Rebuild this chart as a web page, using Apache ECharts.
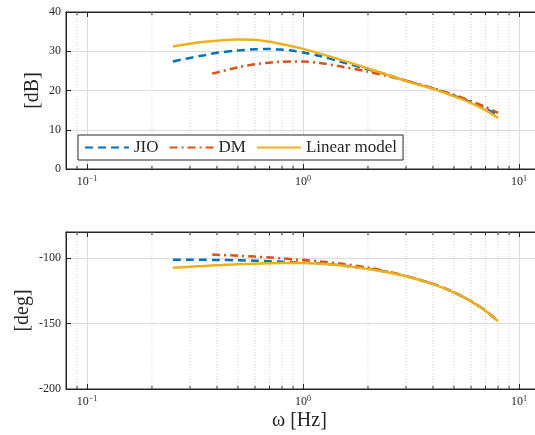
<!DOCTYPE html>
<html><head><meta charset="utf-8">
<script src="https://cdn.jsdelivr.net/npm/echarts@6/dist/echarts.min.js"></script>
<style>html,body{margin:0;padding:0;background:#fff}#c{width:535px;height:435px}</style>
</head><body><div id="c"></div>
<script>
// ---- data ----
const freqJIO = [0.25,0.3,0.35,0.4,0.5,0.6,0.7,0.8,0.9,1,1.2,1.5,2,2.5,3,4,5,6,7,8];
const freqDM  = [0.38,0.4,0.5,0.6,0.7,0.8,0.9,1,1.2,1.5,2,2.5,3,4,5,6,7,8];
const freqLin = [0.25,0.3,0.35,0.4,0.5,0.6,0.7,0.8,0.9,1,1.2,1.5,2,2.5,3,4,5,6,7,8];
const magJIO = [27.4,28.3,29.0,29.6,30.2,30.5,30.6,30.4,30.1,29.7,28.8,27.3,25.4,23.9,22.5,20.5,18.7,17.0,15.4,13.8];
const magDM  = [24.3,24.6,25.9,26.7,27.1,27.3,27.4,27.4,27.0,26.1,24.8,23.6,22.5,20.6,18.9,17.3,15.8,14.3];
const magLin = [31.2,31.9,32.4,32.7,33.0,32.9,32.4,31.8,31.2,30.6,29.4,27.8,25.6,23.9,22.4,20.4,18.5,16.8,15.0,13.0];
const phJIO = [-101.3,-101.3,-101.3,-101.4,-101.6,-101.9,-102.3,-102.7,-103.1,-103.4,-104.1,-105.5,-108.0,-110.8,-113.7,-119.7,-126.1,-132.9,-140.1,-148.2];
const phDM  = [-97.2,-97.4,-98.1,-98.8,-99.5,-100.2,-100.8,-101.3,-102.5,-104.2,-107.2,-110.5,-113.6,-119.7,-126.1,-132.9,-140.1,-148.2];
const phLin = [-107.4,-106.6,-105.9,-105.4,-104.7,-104.2,-103.9,-103.7,-103.6,-103.6,-104.2,-105.6,-108.2,-110.9,-113.8,-119.8,-126.2,-133.0,-140.2,-148.3];
const seriesNames = ['JIO','DM','Linear model'];
const xRange = [0.08, 20];
const magRange = [0, 40, 10];
const phRange = [-200, -80, 50];
const minorX = [0.09,0.2,0.3,0.4,0.5,0.6,0.7,0.8,0.9,2,3,4,5,6,7,8,9];

const FONT = 'Liberation Serif';
const AX = '#262626';
const colors = ['#0072BD','#D95319','#EDB120'];
const dashes = [[8,5],[8,4,2,4],'solid'];

const zip = (xs, ys) => xs.map((x,i)=>[x, ys[i]]);

function xAxisCfg(gi, top){
  return {
    type:'log', logBase:10, gridIndex:gi, min:xRange[0], max:xRange[1],
    position: top ? 'top' : 'bottom',
    axisLine:{show:true, onZero:false, lineStyle:{color:AX, width:1}},
    axisTick:{show:true, inside:true, length:5, lineStyle:{color:AX}},
    splitLine:{show:!top, lineStyle:{color:'#dcdcdc', width:1}},
    axisLabel:{show:!top, showMinLabel:false, showMaxLabel:false, margin:6,
      formatter:v=>{const e=Math.log10(v); if(Math.abs(e-Math.round(e))>1e-6) return ''; const r=Math.round(e); return '{b|10}{e|'+(r<0?'\u2212'+(-r):r)+'}';},
      rich:{b:{fontFamily:FONT,fontSize:12,color:AX,lineHeight:14}, e:{fontFamily:FONT,fontSize:8,color:AX,verticalAlign:'top',lineHeight:9}}}
  };
}
function yAxisCfg(gi, rng, name, gap){
  return {
    type:'value', gridIndex:gi, min:rng[0], max:rng[1], interval:rng[2],
    name:name, nameLocation:'middle', nameGap:gap, nameMoveOverlap:false,
    nameTextStyle:{fontFamily:FONT, fontSize:20, color:AX},
    axisLine:{show:true, lineStyle:{color:AX}},
    axisTick:{show:true, inside:true, length:5, lineStyle:{color:AX}},
    splitLine:{show:true, lineStyle:{color:'#dcdcdc'}},
    axisLabel:{fontFamily:FONT, fontSize:12, color:AX, margin:5, showMaxLabel: rng[1]%rng[2]===0,
      formatter:v=>String(v)}
  };
}
function minorSeries(gi, rng){
  return {
    type:'custom', xAxisIndex:gi*2, yAxisIndex:gi, silent:true, z:1,
    data: minorX.map(v=>[v, rng[0]]), encode:{x:0,y:1},
    renderItem:(params, api)=>{
      const v = api.value(0);
      const p0 = api.coord([v, rng[0]]), p1 = api.coord([v, rng[1]]);
      return {type:'group', children:[
        {type:'line', shape:{x1:p0[0],y1:p0[1],x2:p1[0],y2:p1[1]}, style:{stroke:'#cfcfcf', lineWidth:1, lineDash:[1,2]}},
        {type:'line', shape:{x1:p0[0],y1:p0[1],x2:p0[0],y2:p0[1]-3}, style:{stroke:AX, lineWidth:1}},
        {type:'line', shape:{x1:p1[0],y1:p1[1],x2:p1[0],y2:p1[1]+3}, style:{stroke:AX, lineWidth:1}}
      ]};
    }
  };
}
function lineSeries(i, gi, data){
  return {
    name:seriesNames[i], type:'line', xAxisIndex:gi*2, yAxisIndex:gi, data:data,
    smooth:0.3, symbol:'none', showSymbol:false, z:3+i,
    lineStyle:{color:colors[i], width:2.5, type:dashes[i]}, itemStyle:{color:colors[i]}
  };
}

const chart = echarts.init(document.getElementById('c'), null, {renderer:'canvas'});
chart.setOption({
  animation:false,
  backgroundColor:'#fff',
  grid:[
    {left:66, top:12, height:157, width:518, outerBoundsMode:'none', containLabel:false, show:true, borderColor:AX, borderWidth:1, backgroundColor:'transparent'},
    {left:66, top:232, height:157, width:518, outerBoundsMode:'none', containLabel:false, show:true, borderColor:AX, borderWidth:1, backgroundColor:'transparent'}
  ],
  xAxis:[xAxisCfg(0,false), xAxisCfg(0,true), xAxisCfg(1,false), xAxisCfg(1,true)],
  yAxis:[yAxisCfg(0, magRange, '[dB]', 23), yAxisCfg(1, phRange, '[deg]', 33)],
  legend:{
    data:seriesNames, left:78, top:135, orient:'horizontal',
    backgroundColor:'#fff', borderColor:AX, borderWidth:1, borderRadius:0,
    padding:[4,6,4,6], itemWidth:44, itemHeight:14, itemGap:10,
    itemStyle:{opacity:0},
    textStyle:{fontFamily:FONT, fontSize:17, color:AX}
  },
  graphic:[{type:'text', style:{text:'\u03C9 [Hz]', fontFamily:FONT, fontSize:20, fill:AX}, left:272, top:411}],
  series:[
    minorSeries(0, magRange), minorSeries(1, phRange),
    lineSeries(0,0,zip(freqJIO,magJIO)), lineSeries(1,0,zip(freqDM,magDM)), lineSeries(2,0,zip(freqLin,magLin)),
    lineSeries(0,1,zip(freqJIO,phJIO)), lineSeries(1,1,zip(freqDM,phDM)), lineSeries(2,1,zip(freqLin,phLin))
  ]
});
</script></body></html>
